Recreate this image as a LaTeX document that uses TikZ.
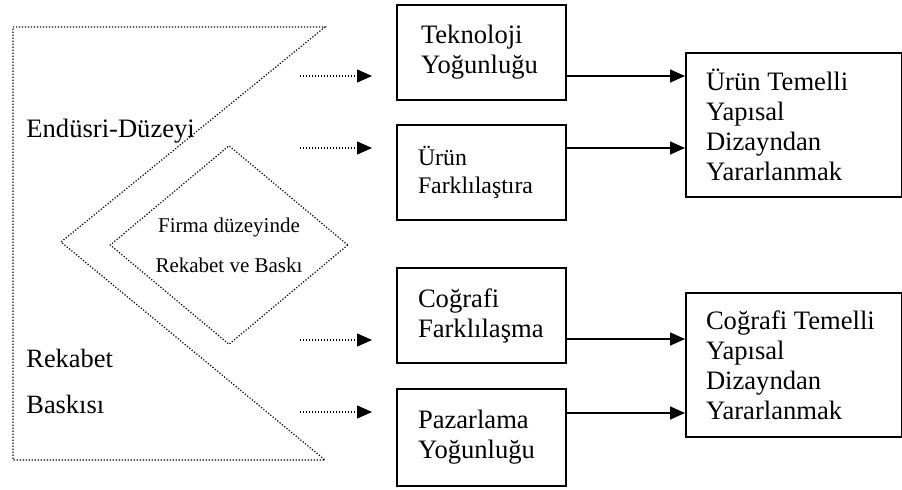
\documentclass[tikz,border=0pt]{standalone}
\usepackage{fontspec}
\setmainfont{Liberation Serif}
\usetikzlibrary{arrows.meta,shapes.geometric,positioning,calc}
\tikzset{
  mfont/.style  = {font=\fontsize{13.3}{15}\selectfont},
  dots/.style   = {line width=0.6pt, dash pattern=on 0.6pt off 0.9pt},
  basic/.style  = {draw, line width=1pt, anchor=north west, align=flush left, mfont},
  mbox/.style   = {basic, inner xsep=12pt, text width=60.5pt, minimum height=47.5pt},
  mbox2/.style  = {basic, inner xsep=10.5pt, text width=63.5pt, minimum height=47.5pt},
  mresult/.style= {basic, inner xsep=10pt, text width=88pt, minimum height=72pt},
  dotarr/.style = {dots, -{Triangle[length=7.5pt,width=6.5pt]}},
  arr/.style    = {line width=0.8pt, -{Triangle[length=7.5pt,width=6.5pt]}}
}

\begin{document}
\begin{tikzpicture}[x=0.5pt,y=-0.5pt]
\useasboundingbox (0,0) rectangle (902,489);

% outer dotted frame
\draw[dots] (13,27) -- (325,27) -- (61,242) -- (325,460) -- (13,460) -- cycle;
\node[anchor=base west, inner sep=0pt, mfont] (industry) at (26,137) {Endüsri-Düzeyi};
\node[anchor=west, inner sep=0pt, align=flush left, font=\fontsize{13.2}{23}\selectfont]
  (pressure) at (26,381) {Rekabet\\Baskısı};
\node[diamond, draw, dots, inner sep=0pt, shape aspect=1.2, minimum width=119pt,
  minimum height=99.5pt, align=center, font=\fontsize{10.5}{20}\selectfont]
  (firm) at (229,245) {Firma düzeyinde\\Rekabet ve Baskı};

% factor boxes
\node[mbox] (tech) at (396,4) {Teknoloji\\Yoğunluğu\par\vspace*{4pt}};
\node[mbox2, font=\fontsize{11.9}{14}\selectfont] (diff) at (396,124) {Ürün\\Farklılaştıra\par\vspace*{5pt}};
\node[mbox2] (geo) at (396,267) {Coğrafi\\Farklılaşma\par\vspace*{2pt}};
\node[mbox2, minimum height=48.5pt] (mkt) at (396,388) {Pazarlama\\Yoğunluğu\par\vspace*{3pt}};

% result boxes
\node[mresult] (prod) at (685,52) {Ürün Temelli\\Yapısal\\Dizayndan\\Yararlanmak};
\node[mresult] (geores) at (685,292) {Coğrafi Temelli\\Yapısal\\Dizayndan\\Yararlanmak};

% dotted arrows
\coordinate (d1) at (300,76);
\coordinate (d2) at (300,148);
\coordinate (d3) at (300,340);
\coordinate (d4) at (300,412);
\draw[dotarr] (d1) -- ([xshift=-12pt]tech.west |- d1);
\draw[dotarr] (d2) -- ([xshift=-12pt]diff.west |- d2);
\draw[dotarr] (d3) -- ([xshift=-12pt]geo.west |- d3);
\draw[dotarr] (d4) -- ([xshift=-12pt]mkt.west |- d4);

% solid arrows
\draw[arr] (tech.east |- 0,76) -- (prod.west |- 0,76);
\draw[arr] (diff.east |- 0,148) -- (prod.west |- 0,148);
\draw[arr] (geo.east |- 0,339) -- (geores.west |- 0,339);
\draw[arr] (mkt.east |- 0,413) -- (geores.west |- 0,413);
\end{tikzpicture}
\end{document}
